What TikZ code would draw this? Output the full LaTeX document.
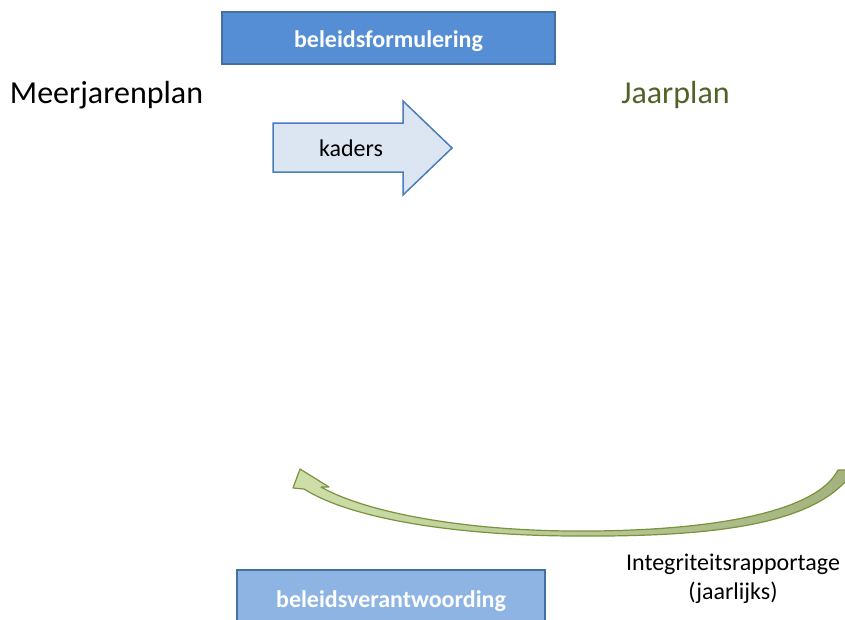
\documentclass[tikz,border=0pt]{standalone}
\usepackage{fontspec}
\setmainfont{Carlito}
\usetikzlibrary{positioning}

\definecolor{boxdark}{HTML}{558ED5}
\definecolor{boxlight}{HTML}{8EB4E3}
\definecolor{boxline}{HTML}{41719C}
\definecolor{kaderfill}{HTML}{DCE6F2}
\definecolor{kaderline}{HTML}{4A7EBB}
\definecolor{jaargreen}{HTML}{4F6228}
\definecolor{curvelight}{HTML}{CFDFAA}
\definecolor{curvedark}{HTML}{A3B27E}
\definecolor{curveline}{HTML}{77933C}

\tikzset{
	phasebox/.style={draw=boxline, line width=1.2pt, minimum width=333pt, minimum height=52pt,
		text height=25pt, text depth=7pt,
		text=white, font=\fontsize{24}{28}\selectfont\bfseries},
	plantitle/.style={anchor=base, font=\fontsize{32}{38}\selectfont},
}

\begin{document}
\begin{tikzpicture}[x=1pt, y=-1pt]
		\useasboundingbox (0,0) rectangle (845,619);

		\node[phasebox, fill=boxdark] (formulering) at (388.5,38) {beleidsformulering};
		\node[phasebox, fill=boxlight, minimum width=308pt, minimum height=56pt] (verantwoording) at (391,598) {beleidsverantwoording};

		\node[plantitle] (meerjaren) at (106.5,103) {Meerjarenplan};
		\node[plantitle, text=jaargreen] (jaar) at (675.5,103) {Jaarplan};

		%% kaders arrow
		\draw[kaderline, line width=1.5pt, fill=kaderfill, line join=miter]
			(273,123) -- (403,123) -- (403,101) -- (452,148) -- (403,195) -- (403,172) -- (273,172) -- cycle;
		\node[font=\fontsize{24}{28}\selectfont] (kaders) at (351,148) {kaders};

		%% curved return arrow
		\draw[curveline, line width=1.2pt, left color=curvelight, right color=curvedark, line join=round]
			(838,470) -- (850,470) -- (850,476)
			.. controls (810,528) and (700,537) .. (570,536)
			.. controls (450,535) and (350,518) .. (304,489)
			-- (293,488) -- (300,469) -- (329,487) -- (321,487)
			.. controls (365,512) and (460,530) .. (570,531)
			.. controls (700,532) and (815,515) .. (838,470) -- cycle;

		\node[align=center, font=\fontsize{24}{29}\selectfont] (rapportage) at (733,579) {Integriteitsrapportage\\(jaarlijks)};
	\end{tikzpicture}
\end{document}
